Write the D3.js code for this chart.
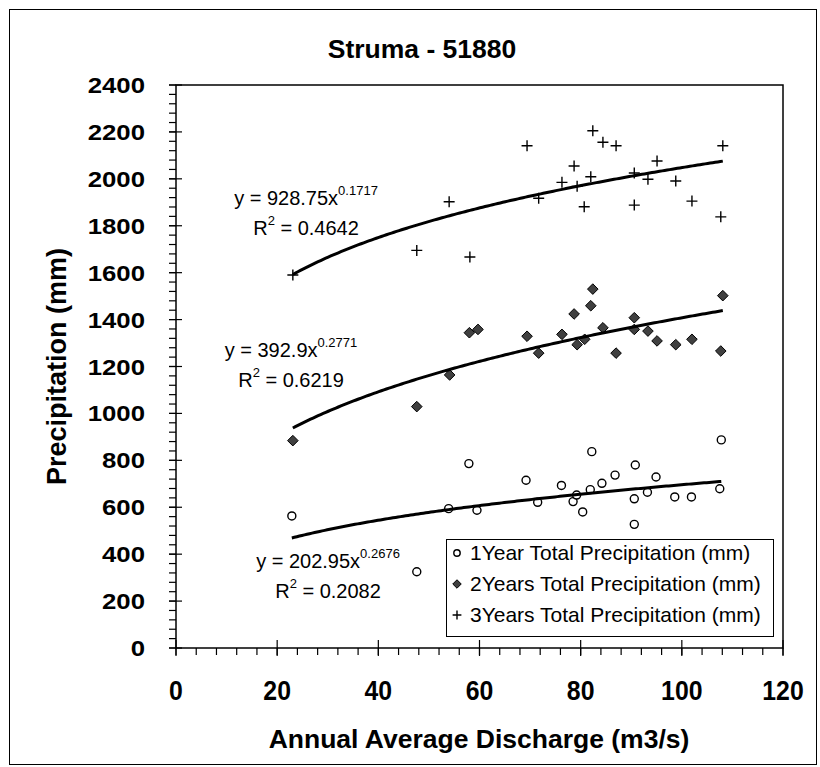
<!DOCTYPE html>
<html>
<head>
<meta charset="utf-8">
<script src="https://cdn.jsdelivr.net/npm/d3@7"></script>
<style>
  body { margin: 0; background: #fff; }
  svg text { font-family: Arial, "Liberation Sans", sans-serif; fill: #000; }
</style>
</head>
<body>
<div id="chart"></div>
<script>
// Config
const width = 820;
const height = 767;

// Data
const oneYearQ = [22.9, 47.6, 53.9, 57.9, 59.5, 69.2, 71.5, 76.2, 78.5, 79.2, 80.4, 81.9, 82.2, 84.2, 86.8, 90.6, 90.6, 90.8, 93.2, 94.9, 98.6, 101.9, 107.5, 107.8];
const oneYearP = [563, 325, 594, 786, 587, 715, 621, 693, 624, 652, 580, 675, 837, 702, 737, 636, 527, 780, 664, 729, 644, 644, 679, 887];

const twoYearsQ = [23.1, 47.6, 54.1, 58.0, 59.7, 69.4, 71.7, 76.3, 78.7, 79.3, 80.8, 82.0, 82.4, 84.4, 87.0, 90.6, 90.6, 93.3, 95.1, 98.8, 102.0, 107.7, 108.1];
const twoYearsP = [884, 1029, 1164, 1344, 1358, 1329, 1257, 1337, 1424, 1293, 1316, 1459, 1530, 1365, 1257, 1408, 1358, 1351, 1309, 1293, 1316, 1266, 1502];

const threeYearsQ = [23.1, 47.6, 54.0, 58.1, 69.4, 71.7, 76.3, 78.7, 79.3, 80.7, 82.0, 82.4, 84.4, 87.0, 90.6, 90.6, 93.3, 95.1, 98.8, 102.0, 107.7, 108.1];
const threeYearsP = [1590, 1695, 1902, 1667, 2141, 1917, 1985, 2055, 1968, 1881, 2009, 2205, 2156, 2141, 2025, 1888, 1998, 2076, 1991, 1905, 1838, 2141];

// Power trendlines y = a * x^b
const trendA = [202.95, 392.9, 928.75];
const trendB = [0.2676, 0.2771, 0.1717];
const trendR2 = ["0.2082", "0.6219", "0.4642"];
const trendLabelPos = [[328, 568], [291, 357], [306, 205]];

const seriesNames = [
    "1Year Total Precipitation (mm)",
    "2Years Total Precipitation (mm)",
    "3Years Total Precipitation (mm)"
];

const xTicks = [0, 20, 40, 60, 80, 100, 120];
const yTicks = [0, 200, 400, 600, 800, 1000, 1200, 1400, 1600, 1800, 2000, 2200, 2400];

const series = [
    { q: oneYearQ, p: oneYearP, marker: "circle" },
    { q: twoYearsQ, p: twoYearsP, marker: "diamond" },
    { q: threeYearsQ, p: threeYearsP, marker: "plus" }
];

const svg = d3.select("#chart").append("svg")
    .attr("width", width)
    .attr("height", height);

// outer chart border
svg.append("rect")
    .attr("x", 9.5).attr("y", 9.5)
    .attr("width", 807).attr("height", 755)
    .attr("fill", "#fff")
    .attr("stroke", "#000")
    .attr("stroke-width", 1);

const x = d3.scaleLinear().domain([0, 120]).range([176, 783]);
const y = d3.scaleLinear().domain([0, 2400]).range([648, 85]);

// plot frame
svg.append("rect")
    .attr("x", x(0)).attr("y", y(2400))
    .attr("width", x(120) - x(0)).attr("height", y(0) - y(2400))
    .attr("fill", "none")
    .attr("stroke", "#000")
    .attr("stroke-width", 1.5);

// Title
svg.append("text")
    .attr("x", 422).attr("y", 58)
    .attr("text-anchor", "middle")
    .attr("font-size", 26.5)
    .attr("font-weight", "bold")
    .text("Struma - 51880");

// Axes with minor ticks
const yMinor = d3.range(0, 2401, 40);
const xMinor = d3.range(0, 121, 4);

const ax = svg.append("g").attr("stroke", "#000").attr("stroke-width", 1.2);
ax.selectAll(".ymin").data(yMinor).join("line")
    .attr("x1", x(0) - 7).attr("x2", x(0))
    .attr("y1", d => y(d)).attr("y2", d => y(d));
ax.selectAll(".ymaj").data(yTicks).join("line")
    .attr("x1", x(0) - 7).attr("x2", x(0) + 6)
    .attr("y1", d => y(d)).attr("y2", d => y(d));
ax.selectAll(".xmin").data(xMinor).join("line")
    .attr("y1", y(0)).attr("y2", y(0) + 7)
    .attr("x1", d => x(d)).attr("x2", d => x(d));
ax.selectAll(".xmaj").data(xTicks).join("line")
    .attr("y1", y(0) - 8).attr("y2", y(0) + 8)
    .attr("x1", d => x(d)).attr("x2", d => x(d));

// tick labels
svg.selectAll(".ylab").data(yTicks).join("text")
    .attr("class", "ylab")
    .attr("transform", d => `translate(145,${y(d) + 8}) scale(1.12,1)`)
    .attr("text-anchor", "end")
    .attr("font-size", 23)
    .attr("font-weight", "bold")
    .text(d => d);

svg.selectAll(".xlab").data(xTicks).join("text")
    .attr("class", "xlab")
    .attr("transform", d => `translate(${x(d)},700) scale(0.92,1)`)
    .attr("text-anchor", "middle")
    .attr("font-size", 27)
    .attr("font-weight", "bold")
    .text(d => d);

// axis titles
svg.append("text")
    .attr("x", 479).attr("y", 748)
    .attr("text-anchor", "middle")
    .attr("font-size", 26.5)
    .attr("font-weight", "bold")
    .text("Annual Average Discharge (m3/s)");

svg.append("text")
    .attr("transform", `translate(66,${(y(0) + y(2400)) / 2}) rotate(-90)`)
    .attr("text-anchor", "middle")
    .attr("font-size", 27)
    .attr("font-weight", "bold")
    .text("Precipitation (mm)");

// Markers
function drawMarker(g, type, cx, cy, s) {
    if (type === "circle") {
        g.append("circle")
            .attr("cx", cx).attr("cy", cy).attr("r", 4 * s)
            .attr("fill", "#fff").attr("stroke", "#000").attr("stroke-width", 1.4);
    } else if (type === "diamond") {
        const r = 5.3 * s;
        g.append("path")
            .attr("d", `M${cx},${cy - r}L${cx + r},${cy}L${cx},${cy + r}L${cx - r},${cy}Z`)
            .attr("fill", "#404040").attr("stroke", "#000").attr("stroke-width", 1);
    } else {
        const r = 5.5 * s;
        g.append("path")
            .attr("d", `M${cx - r},${cy}H${cx + r}M${cx},${cy - r}V${cy + r}`)
            .attr("stroke", "#000").attr("stroke-width", 1.4);
    }
}

const pts = svg.append("g");
series.forEach(s => {
    s.q.forEach((q, i) => drawMarker(pts, s.marker, x(q), y(s.p[i]), 1));
});

// Trendlines
const line = d3.line().x(d => x(d[0])).y(d => y(d[1]));
series.forEach((s, k) => {
    const [lo, hi] = d3.extent(s.q);
    const xs = d3.range(lo, hi, 0.5).concat([hi]);
    const curve = xs.map(v => [v, trendA[k] * Math.pow(v, trendB[k])]);
    svg.append("path")
        .datum(curve)
        .attr("d", line)
        .attr("fill", "none")
        .attr("stroke", "#000")
        .attr("stroke-width", 3);
});

// Trendline labels
trendA.forEach((a, k) => {
    const [cx, cy] = trendLabelPos[k];
    const t1 = svg.append("text")
        .attr("x", cx).attr("y", cy)
        .attr("text-anchor", "middle")
        .attr("font-size", 20);
    t1.append("tspan").text(`y = ${a}x`);
    t1.append("tspan").attr("font-size", 13).attr("dy", -10).text(trendB[k]);

    const t2 = svg.append("text")
        .attr("x", cx).attr("y", cy + 30)
        .attr("text-anchor", "middle")
        .attr("font-size", 20);
    t2.append("tspan").text("R");
    t2.append("tspan").attr("font-size", 13).attr("dy", -10).text("2");
    t2.append("tspan").attr("dy", 10).text(` = ${trendR2[k]}`);
});

// Legend
const leg = svg.append("g");
leg.append("rect")
    .attr("x", 446.5).attr("y", 539.5)
    .attr("width", 327).attr("height", 97)
    .attr("fill", "#fff")
    .attr("stroke", "#000")
    .attr("stroke-width", 1);
seriesNames.forEach((name, i) => {
    const by = 560 + i * 31;
    drawMarker(leg, series[i].marker, 457, by - 7, 0.8);
    leg.append("text")
        .attr("x", 470).attr("y", by)
        .attr("font-size", 21)
        .text(name);
});
</script>
</body>
</html>
